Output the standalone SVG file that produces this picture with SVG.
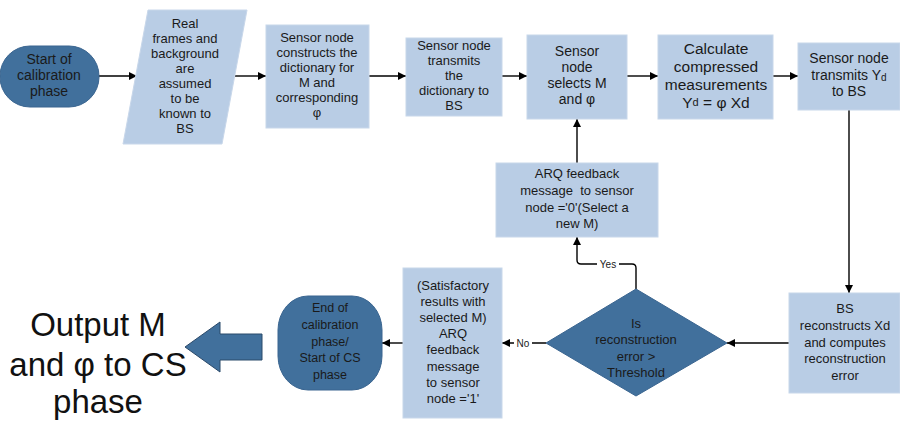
<svg xmlns="http://www.w3.org/2000/svg" width="900" height="423" viewBox="0 0 900 423">
<defs>
<marker id="ah" viewBox="0 0 10 10" refX="10" refY="5" markerWidth="8" markerHeight="8" markerUnits="userSpaceOnUse" orient="auto">
<path d="M0,0 L10,5 L0,10 z" fill="#000"/>
</marker>
<style>
.lt{fill:#b9cde5;stroke:#c8d7ea;stroke-width:1}
.dk{fill:#41709c;stroke:#3a6590;stroke-width:1}
.t{font-family:"Liberation Sans",Arial,sans-serif;font-size:13px;fill:#1a1a1a;text-anchor:middle;dominant-baseline:central}
.c{stroke:#000;stroke-width:1.4;fill:none}
.lbl{font-family:"Liberation Sans",Arial,sans-serif;font-size:10px;fill:#1a1a1a;text-anchor:middle;dominant-baseline:central}
</style>
</defs>
<rect width="900" height="423" fill="#fff"/>
<g id="connectors">
<line class="c" x1="99" y1="76" x2="137" y2="76" marker-end="url(#ah)"/>
<line class="c" x1="235" y1="76" x2="266" y2="76" marker-end="url(#ah)"/>
<line class="c" x1="369" y1="76" x2="406" y2="76" marker-end="url(#ah)"/>
<line class="c" x1="502" y1="76" x2="527" y2="76" marker-end="url(#ah)"/>
<line class="c" x1="627" y1="76" x2="658" y2="76" marker-end="url(#ah)"/>
<line class="c" x1="773" y1="76" x2="798" y2="76" marker-end="url(#ah)"/>
<line class="c" x1="849" y1="110" x2="849" y2="293" marker-end="url(#ah)"/>
<line class="c" x1="789" y1="343" x2="727" y2="343" marker-end="url(#ah)"/>
<path class="c" d="M636,289 V268 Q636,264 632,264 H581 Q577,264 577,260 V237" marker-end="url(#ah)"/>
<rect x="597" y="258" width="22" height="12" fill="#fff"/>
<text class="lbl" x="608" y="264">Yes</text>
<line class="c" x1="577" y1="163" x2="577" y2="119" marker-end="url(#ah)"/>
<line class="c" x1="546" y1="343" x2="502" y2="343" marker-end="url(#ah)"/>
<rect x="514" y="337" width="18" height="12" fill="#fff"/>
<text class="lbl" x="523" y="343">No</text>
<line class="c" x1="403" y1="343" x2="382" y2="343" marker-end="url(#ah)"/>
</g>
<g id="start">
<rect class="dk" x="0" y="46" width="99" height="61" rx="30" ry="30"/>
<text class="t" style="font-size:14px"><tspan x="49" y="59">Start of</tspan><tspan x="49" y="75">calibration</tspan><tspan x="49" y="91">phase</tspan></text>
</g>
<g id="assume">
<polygon class="lt" points="148,10 247,10 222,144 123,144"/>
<text class="t"><tspan x="185" y="23">Real</tspan><tspan x="185" y="38">frames and</tspan><tspan x="185" y="53">background</tspan><tspan x="185" y="68">are</tspan><tspan x="185" y="83">assumed</tspan><tspan x="185" y="98">to be</tspan><tspan x="185" y="113">known to</tspan><tspan x="185" y="128">BS</tspan></text>
</g>
<g id="construct">
<rect class="lt" x="266" y="25" width="103" height="103"/>
<text class="t"><tspan x="317" y="37">Sensor node</tspan><tspan x="317" y="52">constructs the</tspan><tspan x="317" y="67">dictionary for</tspan><tspan x="317" y="82">M and</tspan><tspan x="317" y="97">corresponding</tspan><tspan x="317" y="112">φ</tspan></text>
</g>
<g id="transmitdict">
<rect class="lt" x="406" y="38" width="96" height="78"/>
<text class="t"><tspan x="454" y="45">Sensor node</tspan><tspan x="454" y="60">transmits</tspan><tspan x="454" y="75">the</tspan><tspan x="454" y="90">dictionary to</tspan><tspan x="454" y="105">BS</tspan></text>
</g>
<g id="select">
<rect class="lt" x="527" y="35" width="100" height="84"/>
<text class="t" style="font-size:14px"><tspan x="577" y="51">Sensor</tspan><tspan x="577" y="67">node</tspan><tspan x="577" y="83">selects M</tspan><tspan x="577" y="99">and φ</tspan></text>
</g>
<g id="calculate">
<rect class="lt" x="658" y="35" width="115" height="84"/>
<text class="t" style="font-size:15.5px"><tspan x="716" y="48">Calculate</tspan><tspan x="716" y="66">compressed</tspan><tspan x="716" y="84">measurements</tspan><tspan x="716" y="102">Y<tspan style="font-size:11px">d</tspan> = φ Xd</tspan></text>
</g>
<g id="transmitY">
<rect class="lt" x="798" y="43" width="102" height="67"/>
<text class="t" style="font-size:14px"><tspan x="849" y="58">Sensor node</tspan><tspan x="849" y="75">transmits Y<tspan style="font-size:10px" dy="2">d</tspan></tspan><tspan x="849" y="91">to BS</tspan></text>
</g>
<g id="reconstruct">
<rect class="lt" x="789" y="293" width="111" height="100"/>
<text class="t"><tspan x="845" y="308">BS</tspan><tspan x="845" y="325">reconstructs Xd</tspan><tspan x="845" y="342">and computes</tspan><tspan x="845" y="358">reconstruction</tspan><tspan x="845" y="375">error</tspan></text>
</g>
<g id="decision">
<polygon class="dk" points="636,289 727,343 636,396 546,343"/>
<text class="t"><tspan x="636" y="323">Is</tspan><tspan x="636" y="339">reconstruction</tspan><tspan x="636" y="356">error &gt;</tspan><tspan x="636" y="372">Threshold</tspan></text>
</g>
<g id="arq0">
<rect class="lt" x="496" y="163" width="162" height="74"/>
<text class="t"><tspan x="577" y="173">ARQ feedback</tspan><tspan x="577" y="190" xml:space="preserve">message  to sensor</tspan><tspan x="577" y="207">node ='0'(Select a</tspan><tspan x="577" y="223">new M)</tspan></text>
</g>
<g id="arq1">
<rect class="lt" x="403" y="268" width="99" height="150"/>
<text class="t"><tspan x="453" y="285">(Satisfactory</tspan><tspan x="453" y="301">results with</tspan><tspan x="453" y="317">selected M)</tspan><tspan x="453" y="333">ARQ</tspan><tspan x="453" y="349">feedback</tspan><tspan x="453" y="366">message</tspan><tspan x="453" y="382">to sensor</tspan><tspan x="453" y="398">node ='1'</tspan></text>
</g>
<g id="end">
<rect class="dk" x="278" y="296" width="104" height="94" rx="30" ry="34"/>
<text class="t" style="font-size:12.5px"><tspan x="330" y="308">End of</tspan><tspan x="330" y="325">calibration</tspan><tspan x="330" y="342">phase/</tspan><tspan x="330" y="358">Start of CS</tspan><tspan x="330" y="375">phase</tspan></text>
</g>
<g id="output">
<polygon points="185,347 220,322 220,334 262,334 262,360 220,360 220,372" fill="#41709c" stroke="#2b4a6a" stroke-width="1"/>
<text style="font-family:'Liberation Sans',Arial,sans-serif;font-size:33px;fill:#111;text-anchor:middle"><tspan x="98" y="336">Output M</tspan><tspan x="98" y="376">and φ to CS</tspan><tspan x="98" y="413">phase</tspan></text>
</g>
</svg>
